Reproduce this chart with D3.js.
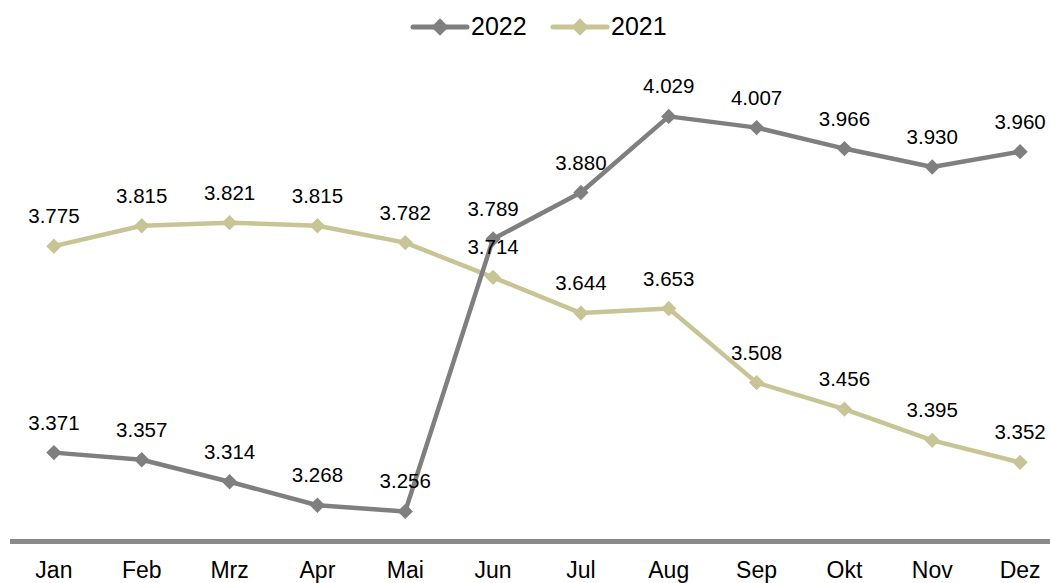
<!DOCTYPE html>
<html>
<head>
<meta charset="utf-8">
<script src="https://cdn.jsdelivr.net/npm/d3@7"></script>
<style>
  html, body { margin: 0; padding: 0; background: #fff; }
  svg { display: block; font-family: "Liberation Sans", Arial, sans-serif; }
</style>
</head>
<body>
<svg id="chart" width="1050" height="583"></svg>
<script>
// Monthly values for the two years
const months = ["Jan", "Feb", "Mrz", "Apr", "Mai", "Jun", "Jul", "Aug", "Sep", "Okt", "Nov", "Dez"];
const values2022 = [3.371, 3.357, 3.314, 3.268, 3.256, 3.789, 3.880, 4.029, 4.007, 3.966, 3.930, 3.960];
const values2021 = [3.775, 3.815, 3.821, 3.815, 3.782, 3.714, 3.644, 3.653, 3.508, 3.456, 3.395, 3.352];
const seriesNames = ["2022", "2021"];
const seriesColors = ["#7f7f7f", "#c9c496"];

const svg = d3.select("#chart");

const x = d3.scaleBand().domain(months).range([10, 1064]);
const y = d3.scaleLinear().domain([3.2, 4.2]).range([540, 29]);
const cx = m => x(m) + x.bandwidth() / 2;

const fmt = v => d3.format(".3f")(v);

// Category axis: thick baseline and month labels
svg.append("line")
  .attr("x1", 10).attr("x2", 1064)
  .attr("y1", y(3.2) + 1.5).attr("y2", y(3.2) + 1.5)
  .attr("stroke", "#8a8a8a").attr("stroke-width", 5);

const xAxis = svg.append("g")
  .attr("transform", `translate(0,${y(3.2) + 4})`)
  .call(d3.axisBottom(x).tickSize(0).tickPadding(0));
xAxis.select(".domain").remove();
xAxis.selectAll("text")
  .attr("dy", null)
  .attr("y", 33.5)
  .attr("font-size", 23)
  .attr("fill", "#000")
  .attr("font-family", "Liberation Sans, Arial, sans-serif");

const line = d3.line()
  .x((d, i) => cx(months[i]))
  .y(d => y(d));

const diamond = d3.symbol().type(d3.symbolDiamond2).size(150);

function drawSeries(vals, color) {
  const g = svg.append("g");
  g.append("path")
    .datum(vals)
    .attr("d", line)
    .attr("fill", "none")
    .attr("stroke", color)
    .attr("stroke-width", 4.5)
    .attr("stroke-linejoin", "round");
  g.selectAll("path.marker")
    .data(vals)
    .join("path")
    .attr("class", "marker")
    .attr("d", diamond)
    .attr("transform", (d, i) => `translate(${cx(months[i])},${y(d)})`)
    .attr("fill", color);
  return g;
}

// Draw 2021 first so 2022 sits on top
drawSeries(values2021, seriesColors[1]);
drawSeries(values2022, seriesColors[0]);

// Value labels above each point
function drawLabels(vals) {
  svg.append("g").selectAll("text")
    .data(vals)
    .join("text")
    .attr("x", (d, i) => cx(months[i]))
    .attr("y", d => y(d) - 23)
    .attr("text-anchor", "middle")
    .attr("font-size", 20.5)
    .attr("fill", "#000")
    .text(d => fmt(d));
}
drawLabels(values2021);
drawLabels(values2022);

// Legend
const legend = svg.append("g");
const legendItems = [
  { name: seriesNames[0], color: seriesColors[0], x0: 413 },
  { name: seriesNames[1], color: seriesColors[1], x0: 553 }
];
const legendDiamond = d3.symbol().type(d3.symbolDiamond2).size(190);
legendItems.forEach(it => {
  legend.append("line")
    .attr("x1", it.x0).attr("x2", it.x0 + 54)
    .attr("y1", 27).attr("y2", 27)
    .attr("stroke", it.color).attr("stroke-width", 5)
    .attr("stroke-linecap", "round");
  legend.append("path")
    .attr("d", legendDiamond)
    .attr("transform", `translate(${it.x0 + 27},27)`)
    .attr("fill", it.color);
  legend.append("text")
    .attr("x", it.x0 + 58).attr("y", 35)
    .attr("font-size", 25)
    .attr("fill", "#000")
    .text(it.name);
});
</script>
</body>
</html>
